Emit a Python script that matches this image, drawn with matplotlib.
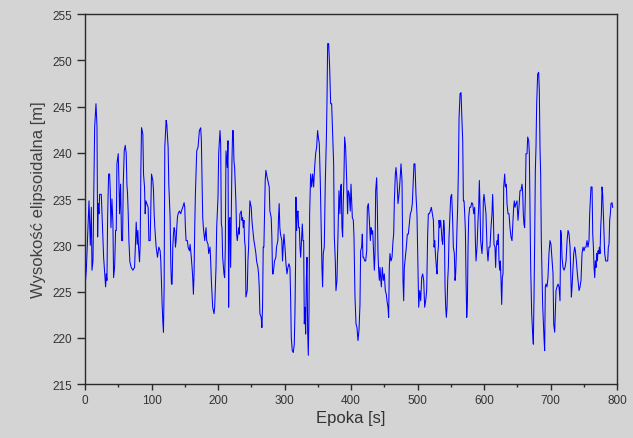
import matplotlib
matplotlib.use("Agg")
import matplotlib.pyplot as plt
from matplotlib.ticker import MultipleLocator

# ---- data (time [s], ellipsoidal height [m]) ----
t_seg1 = [0, 2, 4.5, 6, 8, 9.5, 10.5, 12, 13, 14.5, 16.5, 18, 19, 20, 21, 22, 24.5, 26, 28, 29.5,
          31, 32, 33, 34, 35.5, 37, 38, 39, 40.5, 42, 43, 44.5, 46, 47, 48, 50, 51, 52, 53.5, 55,
          56.5, 57.5, 59, 60.5, 62, 63, 64, 65, 66, 67.5, 69.5, 72, 74.5, 75.5, 77, 78.5, 79.5, 80.5,
          82, 83, 84, 85, 86, 87, 88, 89.5, 90.5, 91.5, 93, 95, 96]
h_seg1 = [225.5, 227.3, 231.9, 234.8, 230.0, 234.1, 227.3, 228.3, 234.5, 242.7, 245.3, 242.9, 230.9,
          234.5, 233.4, 235.5, 235.5, 232.7, 228.7, 227.1, 225.5, 226.9, 226.2, 233.0, 237.7, 237.7,
          235.9, 231.9, 235.0, 232.3, 226.5, 227.6, 231.6, 231.6, 238.8, 239.9, 237.0, 233.4, 236.6,
          230.5, 230.5, 236.6, 240.2, 240.8, 239.9, 236.6, 235.5, 233.4, 230.5, 228.2, 227.6, 227.3,
          227.6, 229.4, 232.5, 230.1, 231.6, 229.8, 228.2, 230.1, 238.1, 242.7, 242.4, 242.0, 237.7,
          236.3, 233.4, 234.8, 234.5, 234.1, 230.5]

t_seg2 = [98, 100, 102, 103, 104, 105, 107, 109, 111, 113, 114, 116, 117, 118, 119, 120, 122, 123,
          125, 126, 128, 129, 130, 131, 132, 133, 134, 135, 136, 137, 138, 139, 140, 142, 144, 145,
          147, 149, 150, 151, 152, 154, 155, 157, 158, 159, 161, 162, 163, 164, 165, 166, 168, 170,
          172, 174, 175, 177, 178, 180, 182, 183, 185, 186, 188, 189, 190, 192, 194, 195, 197]
h_seg2 = [230.5, 237.7, 237.0, 235.9, 233.4, 231.9, 229.8, 228.7, 229.8, 229.4, 228.3, 223.6, 221.8,
          220.6, 225.5, 240.6, 243.5, 243.1, 240.6, 236.6, 233.0, 228.0, 225.8, 225.8, 229.8, 231.2,
          231.9, 231.6, 229.8, 230.5, 231.9, 233.0, 233.4, 233.7, 233.4, 233.7, 234.1, 234.6, 234.1,
          231.9, 230.5, 230.5, 229.8, 229.4, 230.1, 229.4, 227.6, 226.5, 224.7, 226.9, 231.9, 235.5,
          240.2, 240.6, 242.4, 242.7, 241.3, 233.0, 231.9, 230.5, 231.9, 230.5, 230.1, 229.1, 229.8,
          228.3, 226.2, 223.3, 222.6, 223.3, 227.6]

t_seg3 = [198, 200, 201, 203, 204, 205, 206, 207, 209, 210, 211, 212, 214, 215, 216, 217, 218, 219,
          220, 221, 222, 223, 224, 225, 227, 228, 229, 231, 232, 233, 235, 236, 237, 238, 239, 240,
          241, 242, 244, 245, 246, 247, 248, 250, 251, 252, 254, 255, 257, 258, 260, 261, 262, 263,
          265, 266, 267, 268, 269, 270, 271, 272, 274, 275, 277, 278, 280, 281, 282, 283, 284, 285,
          287, 288, 290, 291, 292, 293, 294, 296, 297, 298]
h_seg3 = [231.9, 235.2, 239.9, 242.4, 241.0, 232.3, 231.9, 228.7, 226.9, 226.5, 229.8, 240.2, 238.4,
          241.3, 223.3, 232.7, 233.0, 227.6, 233.4, 239.1, 242.4, 242.4, 239.1, 238.4, 234.5, 231.2,
          230.5, 231.9, 231.2, 233.4, 233.7, 232.7, 233.0, 231.9, 232.7, 230.5, 229.8, 224.4, 225.1,
          228.3, 229.8, 232.7, 234.8, 234.1, 232.7, 231.9, 230.5, 230.1, 229.1, 228.3, 227.6, 226.9,
          225.5, 222.6, 222.2, 221.1, 223.3, 229.8, 229.8, 233.4, 237.0, 238.1, 237.3, 237.0, 236.3,
          233.7, 233.0, 230.9, 226.9, 226.9, 227.6, 228.3, 228.7, 229.8, 230.5, 233.0, 234.5, 231.9,
          231.2, 230.5, 228.3, 229.8]

t_seg4 = [299.2, 300.7, 302.2, 303.7, 305.2, 306.7, 308.2, 309.2, 310.2, 311.7, 313.2, 314.7, 315.7,
          316.7, 317.2, 318.2, 319.2, 320.3, 321.3, 322.3, 323.3, 324.3, 325.3, 326.8, 327.8, 328.8,
          329.8, 330.8, 331.8, 332.8, 333.8, 334.8, 335.8, 336.8, 337.8, 339.3, 340.8, 342.3, 343.8,
          345.3, 346.8, 348.3, 349.8, 350.8, 352.3, 353.8, 355.3, 356.3, 357.3, 358.3, 359.8, 361.4,
          362.9, 363.9, 364.9, 366.4, 367.9, 369.4, 370.9, 372.4, 373.9, 374.9, 376.4, 377.4, 378.9,
          380.4, 381.9, 383.4, 384.4, 385.4, 386.4, 387.4, 388.4, 389.4, 390.4, 391.9, 393.4, 394.9,
          395.9, 397.4, 398.9]
h_seg4 = [231.2, 229.8, 228.0, 226.9, 227.6, 228.0, 227.6, 224.4, 220.0, 218.6, 218.4, 219.3, 222.6,
          228.3, 235.2, 231.6, 233.4, 233.7, 231.9, 231.9, 229.8, 228.7, 230.1, 232.3, 230.5, 230.5,
          221.5, 223.3, 220.4, 226.2, 228.7, 220.8, 218.1, 222.6, 233.4, 237.7, 236.3, 237.7, 236.3,
          238.4, 239.9, 240.6, 242.4, 241.7, 241.0, 237.0, 231.6, 227.6, 225.5, 229.1, 229.8, 237.0,
          241.3, 245.6, 251.8, 251.8, 249.2, 245.3, 245.3, 242.0, 238.8, 230.9, 228.3, 225.1, 226.2,
          231.2, 235.9, 233.4, 236.3, 236.6, 231.9, 230.9, 234.8, 237.3, 241.7, 240.6, 237.3, 233.4,
          235.9, 235.5, 233.7]

t_seg5 = [400.0, 402.0, 403.5, 404.5, 406.0, 407.5, 409.0, 410.5, 412.0, 413.5, 414.5, 416.0, 417.0,
          418.0, 419.0, 420.6, 422.1, 423.6, 424.6, 426.1, 427.6, 429.1, 430.1, 431.1, 432.6, 433.6,
          435.1, 436.1, 437.1, 438.6, 439.6, 440.6, 441.6, 442.6, 443.6, 444.6, 445.6, 447.1, 448.6,
          450.1, 451.6, 453.1, 454.1, 455.6, 456.6, 457.6, 458.6, 460.2, 461.7, 463.2, 464.2, 465.2,
          466.7, 467.7, 469.2, 470.7, 472.2, 473.7, 475.2, 476.7, 478.2, 479.2, 480.2, 481.7, 483.2,
          484.7, 486.2, 487.7, 489.2, 490.7, 492.2, 493.7, 494.7, 496.2, 497.7, 499.2]
h_seg5 = [236.6, 233.0, 232.7, 230.9, 224.4, 221.5, 221.1, 219.7, 220.8, 223.6, 229.4, 229.8, 231.2,
          228.7, 228.7, 228.3, 228.3, 229.4, 234.1, 234.5, 232.7, 230.5, 231.9, 231.2, 231.6, 229.8,
          227.3, 229.1, 235.9, 237.3, 234.1, 229.1, 227.3, 226.2, 227.6, 226.5, 225.5, 227.6, 226.2,
          226.9, 225.1, 224.7, 224.0, 223.3, 222.2, 227.6, 229.1, 228.3, 228.7, 230.5, 231.2, 234.8,
          237.7, 238.4, 237.0, 234.5, 235.5, 237.0, 238.8, 237.0, 226.2, 224.0, 227.6, 228.7, 229.8,
          231.2, 231.2, 232.3, 233.4, 233.7, 234.5, 237.0, 238.8, 238.8, 235.5, 233.4]

t_seg6 = [501.8, 503.3, 504.8, 506.3, 507.8, 509.3, 510.8, 512.3, 513.8, 515.3, 516.3, 517.8, 519.3,
          520.8, 522.4, 523.9, 524.9, 525.9, 526.9, 528.4, 529.4, 530.4, 531.4, 532.4, 533.4, 534.9,
          535.9, 536.9, 537.9, 539.4, 540.4, 541.4, 542.4, 543.4, 544.4, 545.4, 546.4, 547.4, 548.9,
          549.9, 551.4, 552.9, 553.9, 555.4, 556.4, 557.4, 558.4, 559.4, 560.4, 561.4, 562.5, 564.0,
          565.5, 566.5, 568.0, 569.0, 570.0, 571.0, 572.0, 573.0, 574.0, 575.0, 576.0, 577.0, 578.5,
          580.0, 581.5, 583.0, 584.5, 586.0, 587.0, 588.0, 589.5, 591.0, 592.0, 593.0, 594.0, 595.0,
          596.0, 597.0, 598.0, 599.0, 600.0]
h_seg6 = [223.3, 225.1, 224.0, 226.5, 226.9, 226.2, 223.3, 224.0, 225.1, 231.2, 233.4, 233.4, 233.7,
          234.1, 233.4, 232.7, 229.8, 230.5, 229.1, 227.6, 226.9, 229.1, 229.8, 232.7, 231.9, 232.7,
          231.6, 230.5, 230.1, 232.7, 231.9, 225.5, 223.3, 222.2, 223.3, 226.2, 227.6, 230.9, 233.4,
          235.2, 235.5, 232.7, 229.8, 229.1, 226.2, 226.9, 229.1, 231.9, 234.1, 237.7, 243.8, 246.4,
          246.5, 244.2, 241.3, 234.8, 234.8, 233.4, 231.6, 226.2, 222.2, 223.6, 229.8, 233.0, 234.1,
          234.1, 234.6, 234.5, 233.4, 234.1, 230.5, 228.3, 229.8, 232.7, 234.1, 237.0, 234.1, 230.5,
          229.8, 229.1, 230.5, 234.8, 235.5]

t_seg7 = [603.0, 604.5, 606.0, 607.5, 609.0, 610.5, 612.0, 613.0, 614.0, 615.0, 616.5, 617.5, 618.5,
          619.5, 620.5, 621.5, 622.6, 623.6, 624.6, 625.6, 626.6, 627.6, 628.6, 629.6, 631.1, 632.1,
          633.6, 634.6, 636.1, 637.6, 639.1, 640.6, 642.1, 643.1, 644.6, 645.6, 646.6, 648.1, 649.6,
          651.1, 652.6, 654.1, 655.6, 657.1, 658.1, 659.1, 660.1, 661.1, 662.2, 663.2, 664.7, 665.7,
          667.2, 668.2, 669.2, 670.2, 671.7, 673.2, 674.2, 675.2, 676.2, 677.2, 678.2, 679.2, 680.7,
          682.2, 683.2, 684.2, 685.2, 686.2, 687.2, 688.2, 689.2, 690.2, 691.2, 692.2, 693.2, 694.7,
          696.2, 697.7, 699.2, 700.7]
h_seg7 = [233.4, 229.8, 228.3, 229.8, 229.8, 231.9, 233.4, 235.5, 233.4, 230.1, 229.8, 227.6, 229.8,
          230.5, 230.1, 231.2, 228.3, 227.3, 228.3, 226.2, 223.6, 226.5, 226.9, 236.3, 237.7, 236.3,
          236.6, 234.5, 233.4, 233.4, 231.9, 230.9, 230.5, 231.9, 234.1, 234.8, 234.1, 234.5, 234.8,
          232.7, 234.1, 235.9, 235.9, 236.6, 235.9, 233.4, 232.3, 231.9, 235.5, 239.9, 239.9, 241.7,
          241.3, 239.9, 233.4, 227.6, 222.6, 220.4, 219.3, 224.4, 230.5, 238.1, 240.6, 245.3, 248.5,
          248.7, 246.7, 240.6, 237.7, 230.5, 226.9, 223.6, 221.8, 220.0, 218.6, 225.5, 225.8, 225.5,
          226.5, 229.1, 230.5, 230.1]

t_seg8 = [703.8, 704.8, 706.3, 707.3, 708.3, 709.8, 711.3, 712.8, 714.3, 715.3, 716.3, 717.3, 718.8,
          720.3, 721.8, 723.4, 724.9, 726.4, 727.9, 729.4, 730.4, 731.4, 732.4, 733.4, 734.9, 736.4,
          737.4, 738.9, 740.4, 741.9, 742.9, 744.4, 745.9, 747.4, 748.9, 750.4, 751.9, 753.4, 754.9,
          756.4, 757.9, 758.9, 759.9, 760.9, 762.5, 763.5, 764.5, 765.5, 766.5, 767.5, 768.5, 769.5,
          770.5, 771.5, 772.5, 773.5, 774.5, 775.5, 776.5, 777.5, 778.5, 779.5, 780.5, 781.5, 783.0,
          784.5, 786.0, 787.0, 788.0, 789.0, 790.0, 791.0, 792.5, 793.5]
h_seg8 = [226.9, 221.5, 220.6, 222.9, 225.1, 225.5, 225.8, 225.5, 224.0, 231.6, 231.2, 228.7, 227.6,
          227.3, 227.6, 228.3, 230.5, 231.6, 231.2, 229.8, 226.9, 224.4, 225.5, 226.9, 229.1, 229.8,
          229.4, 228.3, 226.9, 225.8, 225.1, 225.5, 226.2, 229.1, 229.8, 229.4, 229.8, 229.8, 230.5,
          229.8, 230.5, 233.4, 234.8, 236.3, 236.3, 231.2, 229.8, 227.6, 226.5, 228.3, 227.6, 229.1,
          228.3, 229.4, 229.1, 229.8, 229.1, 231.9, 233.4, 236.3, 235.5, 233.4, 231.2, 229.1, 228.3,
          228.3, 228.3, 229.8, 230.1, 232.7, 233.4, 234.5, 234.6, 234.1]

epoch = t_seg1 + t_seg2 + t_seg3 + t_seg4 + t_seg5 + t_seg6 + t_seg7 + t_seg8
height = h_seg1 + h_seg2 + h_seg3 + h_seg4 + h_seg5 + h_seg6 + h_seg7 + h_seg8

x_label = "Epoka [s]"
y_label = "Wysokość elipsoidalna [m]"
x_ticks = [0, 100, 200, 300, 400, 500, 600, 700, 800]
y_ticks = [215, 220, 225, 230, 235, 240, 245, 250, 255]

# ---- figure ----
bg = "#d4d4d4"
txt = "#333333"
plt.rcParams["font.family"] = ["Liberation Sans", "DejaVu Sans"]

fig = plt.figure(figsize=(6.33, 4.39), dpi=100, facecolor=bg)
ax = fig.add_axes([85 / 633, 1 - 385 / 439, (617 - 85) / 633, (385 - 15) / 439])
ax.set_facecolor(bg)

ax.plot(epoch, height, color="#0000ff", linewidth=0.75)

ax.set_xlim(0, 800)
ax.set_ylim(215, 255)
ax.set_xticks(x_ticks)
ax.set_yticks(y_ticks)
ax.xaxis.set_minor_locator(MultipleLocator(50))

for s in ax.spines.values():
    s.set_color("#2a2a2a")
    s.set_linewidth(1.0)

ax.tick_params(axis="x", which="major", direction="out", length=4, width=1,
               colors="#2a2a2a", labelcolor=txt, labelsize=8.5, pad=3)
ax.tick_params(axis="x", which="minor", direction="out", length=2, width=1, colors="#2a2a2a")
ax.tick_params(axis="y", which="major", direction="out", length=6, width=1,
               colors="#2a2a2a", labelcolor=txt, labelsize=8.5, pad=3)
ax.tick_params(top=False, right=False)

ax.set_xlabel(x_label, fontsize=12, color=txt, labelpad=3)
ax.set_ylabel(y_label, fontsize=12, color="#404040", labelpad=5)

fig.savefig("out.png", dpi=100, facecolor=bg)
